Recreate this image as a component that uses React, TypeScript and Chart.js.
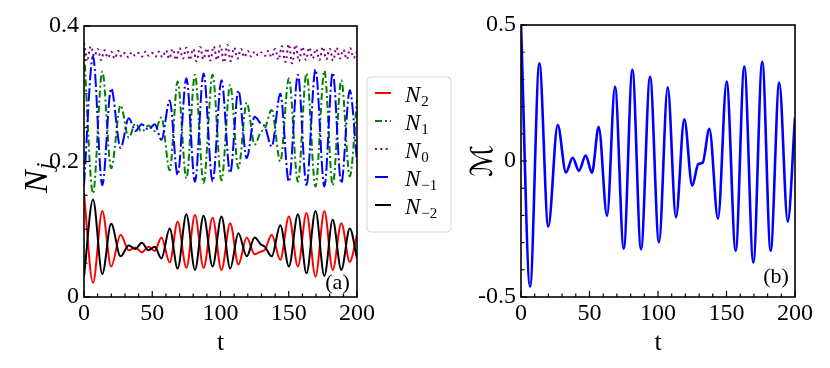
import React, { useEffect, useRef } from 'react';
import { Chart, registerables } from 'chart.js';
Chart.register(...registerables);

const FONT = "'Liberation Serif', 'Times New Roman', serif";

// Times of the extrema (shared by the oscillating populations and M)
const tExt = [0, 6.6, 13.4, 19.9, 26.8, 32.8, 37.7, 42.3, 47.2, 51.8, 56.7, 62.8, 68.6, 75.0, 81.3, 87.6, 94.2, 100.7, 107.1, 113.1, 119.2, 125.0, 129.4, 132.6, 137.5, 143.8, 150.1, 156.7, 163.0, 169.6, 176.1, 182.2, 188.5, 194.7, 200];
const nPlus2 = [0.153, 0.021, 0.127, 0.045, 0.092, 0.069, 0.073, 0.066, 0.074, 0.068, 0.088, 0.051, 0.111, 0.043, 0.121, 0.043, 0.117, 0.040, 0.109, 0.048, 0.088, 0.063, 0.067, 0.070, 0.092, 0.055, 0.119, 0.045, 0.124, 0.030, 0.127, 0.040, 0.109, 0.052, 0.092];
const nPlus1 = [0.365, 0.153, 0.333, 0.190, 0.283, 0.235, 0.256, 0.244, 0.253, 0.245, 0.265, 0.187, 0.318, 0.175, 0.328, 0.168, 0.328, 0.172, 0.313, 0.190, 0.287, 0.225, 0.243, 0.249, 0.276, 0.200, 0.323, 0.170, 0.330, 0.163, 0.334, 0.165, 0.320, 0.178, 0.290];
const nMinus1 = [0.165, 0.355, 0.165, 0.308, 0.220, 0.264, 0.245, 0.255, 0.247, 0.255, 0.232, 0.290, 0.180, 0.323, 0.170, 0.330, 0.170, 0.320, 0.183, 0.305, 0.205, 0.266, 0.256, 0.251, 0.222, 0.300, 0.170, 0.328, 0.165, 0.336, 0.163, 0.331, 0.168, 0.305, 0.200];
const nMinus2 = [0.030, 0.144, 0.034, 0.108, 0.060, 0.076, 0.071, 0.080, 0.069, 0.074, 0.057, 0.101, 0.042, 0.122, 0.040, 0.120, 0.045, 0.119, 0.042, 0.094, 0.060, 0.088, 0.078, 0.074, 0.060, 0.106, 0.045, 0.122, 0.035, 0.127, 0.031, 0.114, 0.040, 0.101, 0.057];
const mValues = [0.5, -0.462, 0.359, -0.241, 0.132, -0.042, 0.012, -0.036, 0.020, -0.043, 0.126, -0.202, 0.273, -0.322, 0.335, -0.325, 0.310, -0.299, 0.271, -0.207, 0.153, -0.091, -0.011, -0.006, 0.118, -0.212, 0.292, -0.330, 0.347, -0.373, 0.365, -0.330, 0.288, -0.223, 0.160];

// N0 (fast small wiggles), sampled every 2.5
const tN0 = [0, 2.5, 5, 7.5, 10, 12.5, 15, 17.5, 20, 22.5, 25, 27.5, 30, 32.5, 35, 37.5, 40, 42.5, 45, 47.5, 50, 52.5, 55, 57.5, 60, 62.5, 65, 67.5, 70, 72.5, 75, 77.5, 80, 82.5, 85, 87.5, 90, 92.5, 95, 97.5, 100, 102.5, 105, 107.5, 110, 112.5, 115, 117.5, 120, 122.5, 125, 127.5, 130, 132.5, 135, 137.5, 140, 142.5, 145, 147.5, 150, 152.5, 155, 157.5, 160, 162.5, 165, 167.5, 170, 172.5, 175, 177.5, 180, 182.5, 185, 187.5, 190, 192.5, 195, 197.5, 200];
const nZero = [0.375, 0.352, 0.370, 0.355, 0.366, 0.350, 0.364, 0.353, 0.362, 0.352, 0.363, 0.355, 0.360, 0.354, 0.361, 0.356, 0.360, 0.355, 0.362, 0.356, 0.360, 0.355, 0.362, 0.354, 0.364, 0.352, 0.366, 0.350, 0.367, 0.352, 0.368, 0.350, 0.366, 0.348, 0.369, 0.351, 0.367, 0.349, 0.370, 0.350, 0.371, 0.346, 0.372, 0.348, 0.368, 0.352, 0.366, 0.354, 0.363, 0.355, 0.362, 0.357, 0.361, 0.356, 0.363, 0.354, 0.366, 0.350, 0.370, 0.347, 0.373, 0.345, 0.372, 0.348, 0.369, 0.350, 0.368, 0.352, 0.366, 0.350, 0.369, 0.351, 0.366, 0.349, 0.368, 0.352, 0.365, 0.351, 0.367, 0.353, 0.362];

const xTicks = [0, 50, 100, 150, 200];
const yTicksA = [0, 0.2, 0.4];
const yTicksB = [-0.5, 0, 0.5];
const legendSubs = ['2', '1', '0', '\u22121', '\u22122'];

const pts = (xs: number[], ys: number[]) => xs.map((x, i) => ({ x, y: ys[i] }));

function framePlugin(id: string, xMinor: number, yMinor: number, tag: string, tagX: number, tagY: number) {
  return {
    id,
    afterDraw(chart: any) {
      const { ctx, chartArea: a, scales } = chart;
      const xs = scales.x, ys = scales.y;
      ctx.save();
      ctx.strokeStyle = '#000';
      ctx.lineWidth = 1.2;
      ctx.setLineDash([]);
      // x ticks
      const nx = Math.round((xs.max - xs.min) / xMinor);
      for (let k = 0; k <= nx; k++) {
        const v = xs.min + k * xMinor;
        const px = xs.getPixelForValue(v);
        const major = xTicks.some((t) => Math.abs(t - v) < 1e-9);
        const len = major ? 6 : 3.5;
        ctx.beginPath();
        ctx.moveTo(px, a.bottom);
        ctx.lineTo(px, a.bottom - len);
        ctx.stroke();
      }
      const ny = Math.round((ys.max - ys.min) / yMinor);
      for (let k = 0; k <= ny; k++) {
        const v = ys.min + k * yMinor;
        const py = ys.getPixelForValue(v);
        const major = ys.ticks.some((t: any) => Math.abs(t.value - v) < 1e-9);
        const len = major ? 6 : 3.5;
        ctx.beginPath();
        ctx.moveTo(a.left, py);
        ctx.lineTo(a.left + len, py);
        ctx.stroke();
      }
      ctx.lineWidth = 1.6;
      ctx.strokeRect(a.left, a.top, a.right - a.left, a.bottom - a.top);
      ctx.fillStyle = '#000';
      ctx.font = `22px ${FONT}`;
      ctx.textAlign = 'center';
      ctx.textBaseline = 'middle';
      ctx.fillText(tag, tagX, tagY);
      ctx.restore();
    },
  };
}

const leftExtras = {
  id: 'leftExtras',
  afterDraw(chart: any) {
    const { ctx } = chart;
    ctx.save();
    // y title N_j
    ctx.translate(47, 193);
    ctx.rotate(-Math.PI / 2);
    ctx.fillStyle = '#000';
    ctx.textAlign = 'left';
    ctx.textBaseline = 'alphabetic';
    ctx.font = `italic 34px ${FONT}`;
    ctx.fillText('N', 0, 0);
    const w = ctx.measureText('N').width;
    ctx.font = `italic 24px ${FONT}`;
    ctx.fillText('j', w + 1, 5);
    ctx.restore();

    // legend
    ctx.save();
    const bx = 367, by = 77, bw = 84, bh = 155, r = 4;
    ctx.beginPath();
    ctx.moveTo(bx + r, by);
    ctx.lineTo(bx + bw - r, by);
    ctx.quadraticCurveTo(bx + bw, by, bx + bw, by + r);
    ctx.lineTo(bx + bw, by + bh - r);
    ctx.quadraticCurveTo(bx + bw, by + bh, bx + bw - r, by + bh);
    ctx.lineTo(bx + r, by + bh);
    ctx.quadraticCurveTo(bx, by + bh, bx, by + bh - r);
    ctx.lineTo(bx, by + r);
    ctx.quadraticCurveTo(bx, by, bx + r, by);
    ctx.closePath();
    ctx.fillStyle = 'rgba(255,255,255,0.85)';
    ctx.fill();
    ctx.strokeStyle = '#d6d6d6';
    ctx.lineWidth = 1;
    ctx.stroke();
    const order = [4, 3, 2, 1, 0]; // dataset indices for N2, N1, N0, N-1, N-2
    order.forEach((di, i) => {
      const ds = chart.data.datasets[di];
      const y0 = 93 + 28 * i;
      ctx.beginPath();
      ctx.setLineDash(ds.borderDash || []);
      ctx.strokeStyle = ds.borderColor;
      ctx.lineWidth = ds.borderWidth;
      ctx.moveTo(375, y0);
      ctx.lineTo(391, y0);
      ctx.stroke();
      ctx.setLineDash([]);
      ctx.fillStyle = '#000';
      ctx.textAlign = 'left';
      ctx.textBaseline = 'alphabetic';
      ctx.font = `italic 23px ${FONT}`;
      ctx.fillText('N', 405, y0 + 8.5);
      const wn = ctx.measureText('N').width;
      ctx.font = `15px ${FONT}`;
      ctx.fillText(legendSubs[i], 405 + wn + 1, y0 + 12.5);
    });
    ctx.restore();
  },
};

function tickFont() {
  return { family: FONT, size: 24 };
}

export default function App() {
  const ref1 = useRef<HTMLCanvasElement>(null);
  const ref2 = useRef<HTMLCanvasElement>(null);

  useEffect(() => {
    const xScale = (extra: any = {}) => ({
      type: 'linear',
      min: 0,
      max: 200,
      afterBuildTicks: (s: any) => {
        s.ticks = xTicks.map((v) => ({ value: v }));
      },
      ticks: { font: tickFont(), color: '#000', padding: 2, maxRotation: 0, autoSkip: false, callback: (v: any) => String(v) },
      grid: { display: false, drawTicks: false },
      border: { display: false },
      title: { display: true, text: 't', color: '#000', font: { family: FONT, size: 26 }, padding: { top: 0, bottom: 9 } },
      afterFit: (s: any) => {
        s.height = 71;
        s.paddingLeft = 0;
        s.paddingRight = 0;
      },
      ...extra,
    });

    const line = (label: string, xs: number[], ys: number[], color: string, width: number, dash: number[] | undefined, order: number, mono = true) => ({
      label,
      data: pts(xs, ys),
      borderColor: color,
      backgroundColor: color,
      borderWidth: width,
      borderDash: dash,
      pointRadius: 0,
      fill: false,
      order,
      cubicInterpolationMode: mono ? 'monotone' : 'default',
      tension: mono ? 0 : 0.4,
    });

    const c1 = new Chart(ref1.current as HTMLCanvasElement, {
      type: 'line',
      data: {
        datasets: [
          line('N\u208B\u2082', tExt, nMinus2, '#000000', 2, undefined, 1),
          line('N\u208B\u2081', tExt, nMinus1, '#0000ff', 2, [13, 3, 2, 3], 2),
          line('N\u2080', tN0, nZero, '#800080', 2, [2, 3.3], 3, false),
          line('N\u2081', tExt, nPlus1, '#008000', 2, [7, 3, 2, 3], 4),
          line('N\u2082', tExt, nPlus2, '#ff0000', 2, undefined, 5),
        ],
      } as any,
      options: {
        responsive: false,
        animation: false,
        events: [],
        layout: { padding: { left: 0, top: 26, right: 113, bottom: 0 } },
        plugins: { legend: { display: false }, tooltip: { enabled: false } },
        scales: {
          x: xScale(),
          y: {
            type: 'linear',
            min: 0,
            max: 0.4,
            afterBuildTicks: (s: any) => {
              s.ticks = yTicksA.map((v) => ({ value: v }));
            },
            ticks: { font: tickFont(), color: '#000', padding: 5, callback: (v: any) => String(v) },
            grid: { display: false, drawTicks: false },
            border: { display: false },
            afterFit: (s: any) => {
              s.width = 84;
            },
          },
        },
      } as any,
      plugins: [framePlugin('frameA', 10, 0.05, '(a)', 337.5, 283), leftExtras],
    });

    const c2 = new Chart(ref2.current as HTMLCanvasElement, {
      type: 'line',
      data: {
        datasets: [line('\u2133', tExt, mValues, '#0000ff', 2.6, undefined, 1)],
      } as any,
      options: {
        responsive: false,
        animation: false,
        events: [],
        layout: { padding: { left: 0, top: 25, right: 35, bottom: 0 } },
        plugins: { legend: { display: false }, tooltip: { enabled: false } },
        scales: {
          x: xScale(),
          y: {
            type: 'linear',
            min: -0.5,
            max: 0.5,
            afterBuildTicks: (s: any) => {
              s.ticks = yTicksB.map((v) => ({ value: v }));
            },
            ticks: { font: tickFont(), color: '#000', padding: 5, callback: (v: any) => String(v) },
            grid: { display: false, drawTicks: false },
            border: { display: false },
            title: {
              display: true,
              text: '\u2133',
              color: '#000',
              font: { family: "'DejaVu Serif', 'DejaVu Sans', serif", size: 30 },
              padding: { top: 26, bottom: 0 },
            },
            afterFit: (s: any) => {
              s.width = 81;
            },
          },
        },
      } as any,
      plugins: [framePlugin('frameB', 10, 0.1, '(b)', 336, 277.5)],
    });

    return () => {
      c1.destroy();
      c2.destroy();
    };
  }, []);

  return (
    <div style={{ position: 'fixed', left: 0, top: 0, width: 830, height: 368, background: '#fff', overflow: 'hidden' }}>
      <canvas ref={ref1} width={470} height={368} style={{ position: 'absolute', left: 0, top: 0, width: 470, height: 368 }} />
      <canvas ref={ref2} width={390} height={368} style={{ position: 'absolute', left: 440, top: 0, width: 390, height: 368 }} />
    </div>
  );
}
